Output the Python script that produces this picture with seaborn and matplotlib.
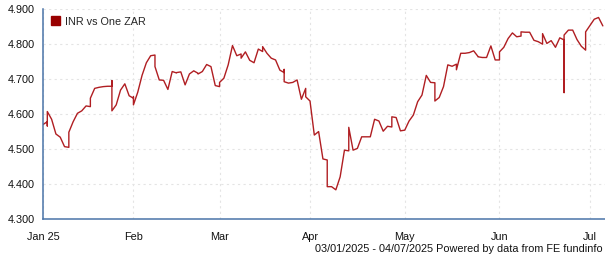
import numpy as np
import pandas as pd
import matplotlib
matplotlib.use("Agg")
import matplotlib.pyplot as plt
from matplotlib.patches import Patch
from matplotlib.ticker import FormatStrFormatter
import seaborn as sns

# ---- data (INR per one ZAR) ----
start_date = "2025-01-03"
end_date = "2025-07-04"
series_name = "INR vs One ZAR"
footer = "03/01/2025 - 04/07/2025 Powered by data from FE fundinfo"

# weekday closes, Jan 3 .. Jul 4 (131 trading days)
weekday_values = [
    4.570,
    4.607, 4.585, 4.543, 4.534, 4.507,
    4.548, 4.578, 4.602, 4.609, 4.623,
    4.645, 4.673, 4.676, 4.678, 4.679,
    4.609, 4.626, 4.668, 4.686, 4.652,
    4.626, 4.662, 4.710, 4.746, 4.766,
    4.735, 4.697, 4.696, 4.670, 4.721,
    4.718, 4.720, 4.683, 4.714, 4.723,
    4.714, 4.721, 4.741, 4.735, 4.681,
    4.690, 4.702, 4.740, 4.795, 4.766,
    4.759, 4.777, 4.753, 4.746, 4.785,
    4.792, 4.773, 4.759, 4.754, 4.725,
    4.692, 4.688, 4.690, 4.697, 4.642,
    4.649, 4.637, 4.540, 4.550, 4.472,
    4.393, 4.393, 4.384, 4.421, 4.497,
    4.562, 4.497, 4.502, 4.535, 4.535,
    4.535, 4.585, 4.580, 4.551, 4.565,
    4.592, 4.590, 4.552, 4.554, 4.580,
    4.597, 4.635, 4.654, 4.710, 4.690,
    4.637, 4.647, 4.678, 4.740, 4.736,
    4.726, 4.773, 4.773, 4.775, 4.780,
    4.763, 4.761, 4.761, 4.794, 4.754,
    4.777, 4.790, 4.815, 4.831, 4.820,
    4.834, 4.833, 4.833, 4.810, 4.806,
    4.829, 4.801, 4.809, 4.790, 4.817,
    4.825, 4.839, 4.839, 4.812, 4.793,
    4.834, 4.852, 4.870, 4.875, 4.851,
]
# weekend values (26 weekends, Jan 4/5 .. Jun 28/29)
saturday_values = [
    4.578, 4.505, 4.621, 4.679, 4.645, 4.768, 4.717, 4.716, 4.678,
    4.771, 4.778, 4.718, 4.673, 4.469, 4.495, 4.535, 4.563, 4.597,
    4.689, 4.742, 4.764, 4.754, 4.822, 4.799, 4.811, 4.782,
]
sunday_values = [
    4.566, 4.505, 4.621, 4.695, 4.649, 4.768, 4.717, 4.714, 4.678,
    4.771, 4.778, 4.727, 4.673, 4.469, 4.495, 4.535, 4.563, 4.597,
    4.689, 4.742, 4.764, 4.754, 4.823, 4.799, 4.661, 4.782,
]

tick_labels = ["Jan 25", "Feb", "Mar", "Apr", "May", "Jun", "Jul"]
tick_dates = ["2025-01-03", "2025-02-03", "2025-03-03", "2025-04-01",
              "2025-05-01", "2025-06-02", "2025-07-01"]
y_ticks = [4.3, 4.4, 4.5, 4.6, 4.7, 4.8, 4.9]

# ---- build table: weekends sit at the following Monday's position ----
dates = pd.date_range(start_date, end_date, freq="D")
rows = []
wd_i = 0
we_i = 0
for d in dates:
    if d.weekday() < 5:
        rows.append((d, wd_i, weekday_values[wd_i]))
        wd_i += 1
    elif d.weekday() == 5:
        rows.append((d, wd_i, saturday_values[we_i]))
    else:
        rows.append((d, wd_i, sunday_values[we_i]))
        we_i += 1
df = pd.DataFrame(rows, columns=["date", "pos", "value"])
pos_of = {r.date.strftime("%Y-%m-%d"): r.pos for r in df.itertuples()}
tick_pos = [pos_of[t] for t in tick_dates]

# ---- plot ----
sns.set_style("white")
plt.rcParams["font.family"] = ["Liberation Sans", "DejaVu Sans"]

W, H = 605, 260
fig = plt.figure(figsize=(W / 100, H / 100), dpi=100)
left, right, top, bottom = 43, 605, 8.7, 219.3
ax = fig.add_axes([left / W, 1 - bottom / H, (right - left) / W, (bottom - top) / H])

line_color = "#b01e22"
sns.lineplot(data=df, x="pos", y="value", sort=False, estimator=None,
             color=line_color, linewidth=1.0, ax=ax)

ax.set_xlim(0, 130.5)
ax.set_ylim(4.3, 4.9)
ax.set_xticks(tick_pos)
ax.set_xticklabels(tick_labels)
ax.set_yticks(y_ticks)
ax.yaxis.set_major_formatter(FormatStrFormatter("%.3f"))
ax.set_xlabel("")
ax.set_ylabel("")

spine_color = "#4a74a8"
for s in ["top", "right"]:
    ax.spines[s].set_visible(False)
for s in ["left", "bottom"]:
    ax.spines[s].set_visible(True)
    ax.spines[s].set_color(spine_color)
    ax.spines[s].set_linewidth(1.1)

fs = 7.8
ax.tick_params(axis="both", which="major", direction="out", length=4, width=1,
               color=spine_color, labelsize=fs, labelcolor="#111111", pad=2)
ax.tick_params(axis="x", pad=5)

ax.grid(True, color="#e4e4e4", linestyle=(0, (2, 3)), linewidth=0.8)
ax.set_axisbelow(True)

ax.legend(handles=[Patch(facecolor="#990000", edgecolor="#990000", label=series_name)],
          loc="upper left", frameon=False, fontsize=fs, handlelength=0.9,
          handleheight=0.9, handletextpad=0.4, borderaxespad=0.3,
          bbox_to_anchor=(0.0, 1.0))

fig.text(603 / W, 1 - 249 / H, footer, ha="right", va="center", fontsize=fs, color="#111111")

fig.savefig("out.png", dpi=100)
